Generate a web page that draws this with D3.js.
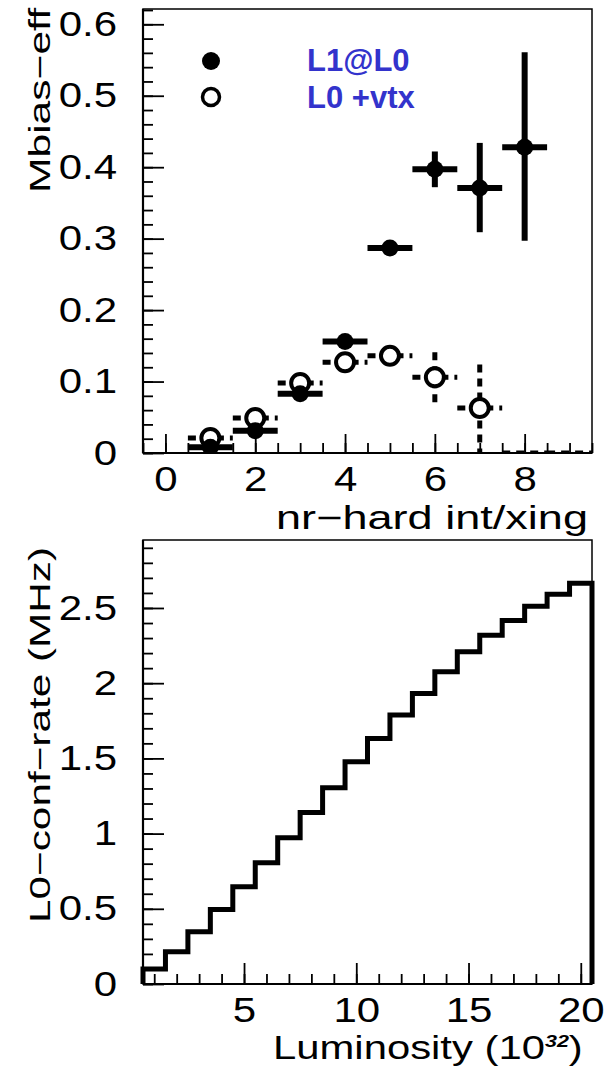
<!DOCTYPE html>
<html>
<head>
<meta charset="utf-8">
<script src="https://cdn.jsdelivr.net/npm/d3@7"></script>
<style>
  body { margin: 0; background: #fff; }
  svg { display: block; font-family: "Liberation Sans", Arial, sans-serif; }
</style>
</head>
<body>
<div id="chart"></div>
<script>
// top panel: min-bias efficiency vs nr of hard interactions per crossing
const xL1 = [1, 2, 3, 4, 5, 6, 7, 8];
const effL1 = [0.008, 0.031, 0.083, 0.156, 0.287, 0.397, 0.371, 0.428];
const effL1Hi = [0.008, 0.031, 0.083, 0.156, 0.287, 0.422, 0.434, 0.561];
const effL1Lo = [0.008, 0.031, 0.083, 0.156, 0.287, 0.372, 0.309, 0.297];

const xVtx = [1, 2, 3, 4, 5, 6, 7, 8, 9];
const effVtx = [0.021, 0.049, 0.098, 0.127, 0.136, 0.106, 0.063, 0, 0];
const effVtxHi = [0.021, 0.049, 0.098, 0.127, 0.136, 0.141, 0.124, 0, 0];
const effVtxLo = [0.021, 0.049, 0.098, 0.127, 0.136, 0.071, 0, 0, 0];

const legendLabels = ["L1@L0", "L0 +vtx"];
const topXTicks = [0, 2, 4, 6, 8];
const topYTicks = [0, 0.1, 0.2, 0.3, 0.4, 0.5, 0.6];

// bottom panel: L0 confirm rate vs luminosity
const lumi = [1, 2, 3, 4, 5, 6, 7, 8, 9, 10, 11, 12, 13, 14, 15, 16, 17, 18, 19, 20];
const confRate = [0.10, 0.215, 0.348, 0.495, 0.647, 0.806, 0.972, 1.14, 1.305, 1.477,
  1.632, 1.788, 1.932, 2.076, 2.209, 2.318, 2.417, 2.512, 2.592, 2.665];
const botXTicks = [5, 10, 15, 20];
const botYTicks = [0, 0.5, 1, 1.5, 2, 2.5];

const W = 609, H = 1069;
const left = 143, right = 592;
const top1 = { top: 9, bottom: 453 };
const top2 = { top: 540, bottom: 984 };
const blue = "#3333cc";
const stretch = 1.2;

const svg = d3.select("#chart").append("svg")
  .attr("width", W).attr("height", H);

const x1 = d3.scaleLinear().domain([-0.5, 9.5]).range([left, right]);
const y1 = d3.scaleLinear().domain([0, 0.6214]).range([top1.bottom, top1.top]);
const x2 = d3.scaleLinear().domain([0.5, 20.5]).range([left, right]);
const y2 = d3.scaleLinear().domain([0, 2.952]).range([top2.bottom, top2.top]);

function widen(sel, k) {
  sel.each(function () {
    const len = this.getComputedTextLength();
    d3.select(this).attr("textLength", len * k).attr("lengthAdjust", "spacingAndGlyphs");
  });
}

function range(a, b, step) {
  const out = [];
  for (let v = a; v <= b + 1e-9; v += step) out.push(+v.toFixed(4));
  return out;
}

function drawAxes(x, y, box, xMajor, xMinor, yMajor, yMinor, xTick, yTick) {
  const g = svg.append("g");

  // frame
  g.append("rect")
    .attr("x", left).attr("y", box.top)
    .attr("width", right - left).attr("height", box.bottom - box.top)
    .attr("fill", "none").attr("stroke", "#000").attr("stroke-width", 1.5);

  const yMin = g.append("g").attr("transform", `translate(${left},0)`)
    .call(d3.axisLeft(y).tickValues(yMinor).tickSize(-10).tickFormat(""));
  const yMaj = g.append("g").attr("transform", `translate(${left},0)`)
    .call(d3.axisLeft(y).tickValues(yMajor).tickSize(-yTick).tickPadding(26).tickFormat(d3.format("")));
  const xMin = g.append("g").attr("transform", `translate(0,${box.bottom})`)
    .call(d3.axisBottom(x).tickValues(xMinor).tickSize(-10).tickFormat(""));
  const xMaj = g.append("g").attr("transform", `translate(0,${box.bottom})`)
    .call(d3.axisBottom(x).tickValues(xMajor).tickSize(-xTick).tickFormat(d3.format("")));

  [yMin, yMaj, xMin, xMaj].forEach((a) => {
    a.select(".domain").remove();
    a.selectAll("line").attr("stroke", "#000").attr("stroke-width", 1.8);
  });

  yMaj.selectAll("text")
    .attr("font-size", 35).attr("fill", "#000")
    .attr("font-family", "Liberation Sans, Arial, sans-serif")
    .call(widen, stretch);
  xMaj.selectAll("text")
    .attr("font-size", 35).attr("fill", "#000")
    .attr("font-family", "Liberation Sans, Arial, sans-serif")
    .attr("y", 38).attr("dy", null)
    .call(widen, stretch);

  // heavier left and bottom axis lines
  g.append("line").attr("x1", left).attr("x2", left)
    .attr("y1", box.top).attr("y2", box.bottom)
    .attr("stroke", "#000").attr("stroke-width", 2.2);
  g.append("line").attr("x1", left).attr("x2", right)
    .attr("y1", box.bottom).attr("y2", box.bottom)
    .attr("stroke", "#000").attr("stroke-width", 2.2);
  return g;
}

// ---------- top panel ----------
drawAxes(x1, y1, top1, topXTicks, range(-0.5, 9.5, 0.5), topYTicks, range(0, 0.62, 0.02), 19, 21);

svg.append("clipPath").attr("id", "clip1")
  .append("rect").attr("x", left).attr("y", top1.top)
  .attr("width", right - left).attr("height", top1.bottom - top1.top);

const plot1 = svg.append("g").attr("clip-path", "url(#clip1)");

const vtx = xVtx.map((d, i) => ({ x: d, v: effVtx[i], hi: effVtxHi[i], lo: effVtxLo[i] }));
const l1 = xL1.map((d, i) => ({ x: d, v: effL1[i], hi: effL1Hi[i], lo: effL1Lo[i] }));

// open markers: L0 + vtx, dashed error bars
plot1.selectAll("line.vtx-h").data(vtx).enter().append("line")
  .attr("x1", (d) => x1(d.x - 0.5)).attr("x2", (d) => x1(d.x + 0.5))
  .attr("y1", (d) => y1(d.v)).attr("y2", (d) => y1(d.v))
  .attr("stroke", "#000").attr("stroke-width", 5).attr("stroke-dasharray", "8,6");
plot1.selectAll("line.vtx-v").data(vtx.filter((d) => d.hi > d.lo)).enter().append("line")
  .attr("x1", (d) => x1(d.x)).attr("x2", (d) => x1(d.x))
  .attr("y1", (d) => y1(d.hi)).attr("y2", (d) => y1(d.lo))
  .attr("stroke", "#000").attr("stroke-width", 5).attr("stroke-dasharray", "8,6");
plot1.selectAll("circle.vtx").data(vtx.filter((d) => d.v > 0)).enter().append("circle")
  .attr("cx", (d) => x1(d.x)).attr("cy", (d) => y1(d.v)).attr("r", 9)
  .attr("fill", "#fff").attr("stroke", "#000").attr("stroke-width", 4);

// filled markers: L1 @ L0
plot1.selectAll("line.l1-h").data(l1).enter().append("line")
  .attr("x1", (d) => x1(d.x - 0.5)).attr("x2", (d) => x1(d.x + 0.5))
  .attr("y1", (d) => y1(d.v)).attr("y2", (d) => y1(d.v))
  .attr("stroke", "#000").attr("stroke-width", 6);
plot1.selectAll("line.l1-v").data(l1.filter((d) => d.hi > d.lo)).enter().append("line")
  .attr("x1", (d) => x1(d.x)).attr("x2", (d) => x1(d.x))
  .attr("y1", (d) => y1(d.hi)).attr("y2", (d) => y1(d.lo))
  .attr("stroke", "#000").attr("stroke-width", 6);
plot1.selectAll("circle.l1").data(l1).enter().append("circle")
  .attr("cx", (d) => x1(d.x)).attr("cy", (d) => y1(d.v)).attr("r", 8.5)
  .attr("fill", "#000");

// legend
const leg = svg.append("g");
leg.append("circle").attr("cx", 211).attr("cy", 61).attr("r", 9).attr("fill", "#000");
leg.append("circle").attr("cx", 211).attr("cy", 97).attr("r", 8.5)
  .attr("fill", "#fff").attr("stroke", "#000").attr("stroke-width", 3.5);
leg.selectAll("text").data(legendLabels).enter().append("text")
  .attr("x", 307).attr("y", (d, i) => 71 + i * 37)
  .attr("font-size", 31).attr("font-weight", "bold").attr("fill", blue)
  .text((d) => d);

// axis titles
svg.append("text")
  .attr("transform", `translate(50,8) rotate(-90)`)
  .attr("text-anchor", "end").attr("font-size", 30)
  .attr("textLength", 185).attr("lengthAdjust", "spacingAndGlyphs")
  .text("Mbias\u2212eff");
svg.append("text")
  .attr("x", 588).attr("y", 529).attr("text-anchor", "end").attr("font-size", 33)
  .attr("textLength", 312).attr("lengthAdjust", "spacingAndGlyphs")
  .text("nr\u2212hard int/xing");

// ---------- bottom panel ----------
drawAxes(x2, y2, top2, botXTicks, range(1, 20, 1), botYTicks, range(0, 2.9, 0.1), 21, 21);

const steps = [[0.5, 0]];
lumi.forEach((d, i) => {
  steps.push([d - 0.5, confRate[i]]);
  steps.push([d + 0.5, confRate[i]]);
});
steps.push([20.5, 0]);

svg.append("path")
  .datum(steps)
  .attr("fill", "none").attr("stroke", "#000").attr("stroke-width", 5)
  .attr("stroke-linejoin", "miter")
  .attr("d", d3.line().x((d) => x2(d[0])).y((d) => y2(d[1])));

svg.append("text")
  .attr("transform", `translate(50,547) rotate(-90)`)
  .attr("text-anchor", "end").attr("font-size", 30)
  .attr("textLength", 376).attr("lengthAdjust", "spacingAndGlyphs")
  .text("L0\u2212conf\u2212rate (MHz)");

const lumTitle = svg.append("g");
const lt = lumTitle.append("text").attr("font-size", 33);
lt.append("tspan").text("Luminosity (10");
lt.append("tspan").attr("font-size", 17).attr("font-weight", "bold").attr("font-style", "italic")
  .attr("dy", -12).text("32");
lt.append("tspan").attr("dy", 12).text(")");
const ltLen = lt.node().getComputedTextLength();
lumTitle.attr("transform", `translate(273,1059) scale(${310 / ltLen},1)`);
</script>
</body>
</html>
